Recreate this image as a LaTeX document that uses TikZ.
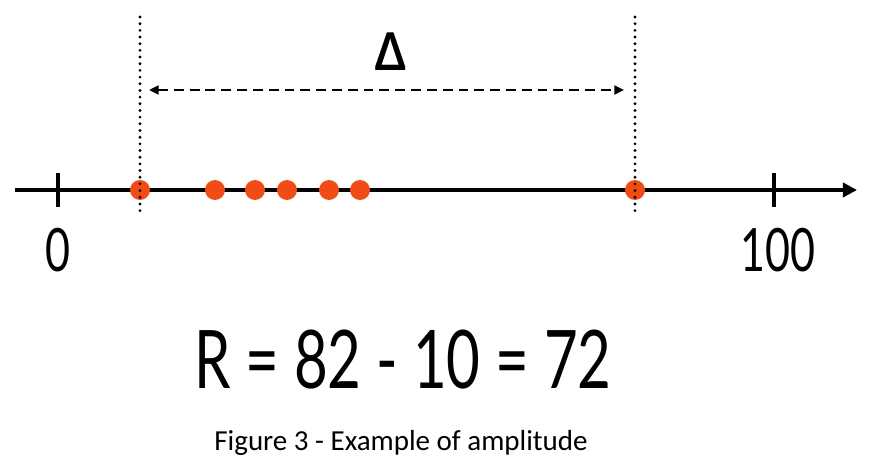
\documentclass[tikz,border=0pt]{standalone}
\usepackage{fontspec}
\setmainfont{Carlito}
\newfontfamily\numfont[FakeStretch=0.72]{Lato}
\IfFontExistsTF{Open Sans Semibold}
  {\newfontfamily\deltafont{Open Sans Semibold}}
  {\newfontfamily\deltafont{Open Sans}}
\usetikzlibrary{arrows.meta}
\definecolor{dotred}{RGB}{242,76,22}
\tikzset{
  axisline/.style={line width=2pt},
  valdot/.style={circle,fill=dotred,inner sep=0pt,minimum size=0.4cm},
  rangeline/.style={line width=1.8pt,line cap=round,dash pattern=on 0pt off 3.8pt},
  spanarrow/.style={line width=1.4pt,dash pattern=on 5.6pt off 3.4pt,{Triangle[length=5.5pt,width=5pt]}-{Triangle[length=5.5pt,width=5pt]}},
  numlabel/.style={inner sep=0pt,font=\numfont\fontsize{34}{36}\selectfont}
}
\begin{document}
\begin{tikzpicture}[x=0.02cm,y=-0.02cm]
\useasboundingbox[fill=white] (0,0) rectangle (882,476);
\coordinate (a0) at (15,190);
\coordinate (a1) at (857,190);
\coordinate (t0) at (58,173);
\coordinate (t0b) at (58,207);
\coordinate (t100) at (774,173);
\coordinate (t100b) at (774,207);
\draw [axisline,-{Triangle[length=8pt,width=8pt]}] (a0) -- (a1);
\draw [axisline] (t0) -- (t0b);
\draw [axisline] (t100) -- (t100b);
\node [valdot] (v0) at (140,190) {};
\node [valdot] (v1) at (215,190) {};
\node [valdot] (v2) at (255,190) {};
\node [valdot] (v3) at (287,190) {};
\node [valdot] (v4) at (329,190) {};
\node [valdot] (v5) at (360,190) {};
\node [valdot] (v6) at (635,190) {};
\coordinate (lo) at (140,17);
\coordinate (lob) at (140,212);
\coordinate (hi) at (635,17);
\coordinate (hib) at (635,212);
\draw [rangeline] (lo) -- (lob);
\draw [rangeline] (hi) -- (hib);
\coordinate (d0) at (149,90);
\coordinate (d1) at (624,90);
\draw [spanarrow] (d0) -- (d1);
\node [inner sep=0pt,font=\deltafont\fontsize{30}{32}\selectfont] (delta) at (391,52) {Δ};
\node [numlabel] (n0) at (58,250) {0};
\node [numlabel] (n100) at (778,250) {100};
\node [inner sep=0pt,font=\numfont\fontsize{46}{48}\selectfont] (eq) at (403,360) {R = 82 - 10 = 72};
\node [inner sep=0pt,font=\fontsize{16.5}{18}\selectfont] (cap) at (401,443) {Figure 3 - Example of amplitude};
\end{tikzpicture}
\end{document}
